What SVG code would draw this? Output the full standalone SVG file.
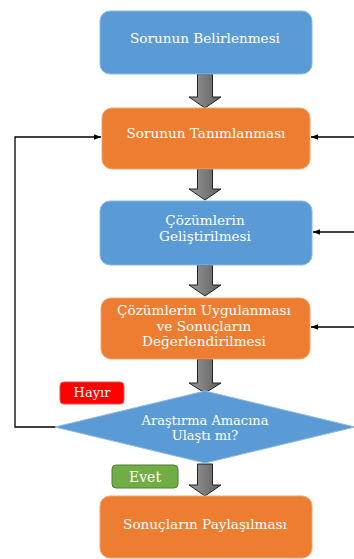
<svg xmlns="http://www.w3.org/2000/svg" width="354" height="559" viewBox="0 0 354 559">
<defs>
<linearGradient id="g" x1="0" y1="0" x2="1" y2="0">
<stop offset="0" stop-color="#9a9a9a"/>
<stop offset="1" stop-color="#5e5e5e"/>
</linearGradient>
<marker id="ah" viewBox="0 0 10 10" refX="10" refY="5" markerWidth="7" markerHeight="7" orient="auto" markerUnits="userSpaceOnUse">
<path d="M0,1 L10,5 L0,9 z" fill="#000"/>
</marker>
<style>
.blue{fill:#5B9BD5;stroke:#8DB8E3;stroke-width:1}
.orange{fill:#ED7D31;stroke:#F2A46E;stroke-width:1}
text{font-family:'DejaVu Serif','Liberation Serif',serif}
.t{font-size:13.6px;fill:#fff;text-anchor:middle}
.lbl{font-size:13px;fill:#fff;text-anchor:middle}
.ba{fill:url(#g);stroke:#222;stroke-width:1}
.ln{fill:none;stroke:#000;stroke-width:1.3;marker-end:url(#ah)}
</style>
</defs>
<rect width="354" height="559" fill="#fff"/>
<g id="connectors">
<path class="ba" d="M197.5,74 H212.5 V97 H221 L205,108 L189,97 H197.5 Z"/>
<path class="ba" d="M197.5,169 H212.5 V189 H221 L205,200 L189,189 H197.5 Z"/>
<path class="ba" d="M197.5,265 H212.5 V285 H221 L205,296 L189,285 H197.5 Z"/>
<path class="ba" d="M197.5,359 H212.5 V383 H221 L205,393 L189,383 H197.5 Z"/>
<path class="ba" d="M197.5,464 H212.5 V485 H221 L205,496 L189,485 H197.5 Z"/>
<path class="ln" d="M56,427 H15 V137 H101"/>
<path class="ln" d="M354,137 H311"/>
<path class="ln" d="M354,232 H313"/>
<path class="ln" d="M354,327 H311"/>
</g>
<g id="n1">
<rect class="blue" x="100" y="11" width="212" height="63" rx="10"/>
<text class="t" x="205" y="43">Sorunun Belirlenmesi</text>
</g>
<g id="n2">
<rect class="orange" x="102" y="108" width="208" height="61" rx="10"/>
<text class="t" x="206" y="138">Sorunun Tanımlanması</text>
</g>
<g id="n3">
<rect class="blue" x="100" y="201" width="212" height="64" rx="10"/>
<text class="t" x="205" y="225">Çözümlerin</text>
<text class="t" x="205" y="241">Geliştirilmesi</text>
</g>
<g id="n4">
<rect class="orange" x="101" y="298" width="209" height="61" rx="10"/>
<text class="t" x="204" y="315">Çözümlerin Uygulanması</text>
<text class="t" x="204" y="331">ve Sonuçların</text>
<text class="t" x="204" y="346">Değerlendirilmesi</text>
</g>
<g id="n5">
<polygon class="blue" points="205,391 355,427 205,463 55,427"/>
<text class="t" x="205" y="425" style="font-size:13px">Araştırma Amacına</text>
<text class="t" x="205" y="440" style="font-size:13px">Ulaştı mı?</text>
</g>
<g id="n6">
<rect class="orange" x="100" y="496" width="212" height="62" rx="10"/>
<text class="t" x="205" y="529">Sonuçların Paylaşılması</text>
</g>
<g id="hayir">
<rect x="60" y="382" width="64" height="22" rx="4" fill="#FF0000" stroke="#E05050" stroke-width="1"/>
<text class="lbl" x="92" y="397">Hayır</text>
</g>
<g id="evet">
<rect x="112" y="465" width="66" height="23" rx="4" fill="#70AD47" stroke="#507E32" stroke-width="1"/>
<text class="lbl" x="145" y="482" style="font-size:14px">Evet</text>
</g>
</svg>
